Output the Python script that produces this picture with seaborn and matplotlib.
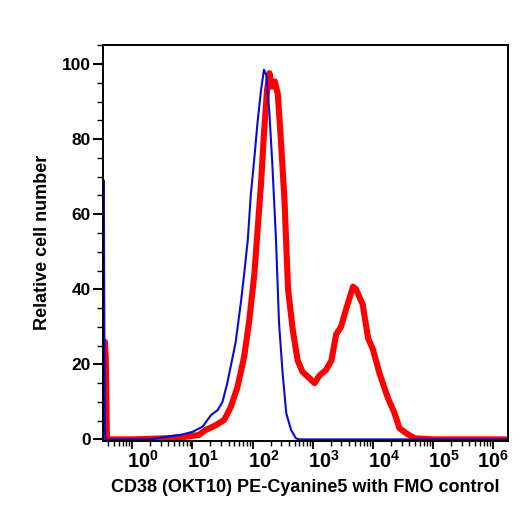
import numpy as np
import pandas as pd
import matplotlib
matplotlib.use("Agg")
import matplotlib.pyplot as plt
import matplotlib.transforms as mtransforms
from matplotlib.ticker import FixedLocator, LogLocator, MultipleLocator, NullFormatter
import seaborn as sns

# FMO control (blue), x given as log10 of channel value
fmo_log = [-0.50, -0.472, -0.462, -0.452, -0.44, 0.0, 0.28, 0.58, 0.83, 1.0, 1.17, 1.31,
           1.42, 1.5, 1.58, 1.67, 1.72, 1.81, 1.86, 1.92, 1.97, 2.03, 2.08, 2.14,
           2.19, 2.23, 2.28, 2.33, 2.39, 2.44, 2.5, 2.56, 2.64, 2.72, 2.78, 4.0, 6.3]
fmo_cnt = [0, 69, 26, 2, 0, 0, 0, 0.7, 1.3, 2.0, 3.4, 6.5,
           7.8, 10, 15, 22, 26, 37, 44, 53, 65, 75, 84, 93,
           98.5, 97, 87, 73, 53, 31, 17.6, 7, 2.5, 0.3, 0, 0, 0]

# CD38 stained sample (red)
cd38_log = [-0.50, -0.455, -0.44, -0.42, 0.0, 0.56, 0.89, 1.11, 1.22, 1.39, 1.53, 1.64,
            1.75, 1.86, 1.94, 2.03, 2.08, 2.14, 2.19, 2.24, 2.28, 2.32, 2.37, 2.42,
            2.47, 2.53, 2.59, 2.67, 2.75, 2.83, 2.92, 3.03, 3.11, 3.22, 3.31, 3.39,
            3.47, 3.56, 3.67, 3.72, 3.83, 3.92, 4.0, 4.11, 4.25, 4.36, 4.44, 4.56,
            4.69, 5.0, 6.3]
cd38_cnt = [0, 26, 22, 0, 0, 0.3, 0.7, 1.2, 2.5, 3.8, 5.2, 8.7,
            14, 22, 31, 44, 55, 68, 81.6, 93, 97.6, 94, 95.4, 92,
            80, 64, 40, 29, 21, 18, 16.7, 15, 17, 18.5, 21, 28,
            30, 35, 40.7, 40, 36, 27, 24, 17.6, 11, 7, 3, 1.6,
            0.3, 0, 0]

decades = [0, 1, 2, 3, 4, 5, 6]
y_ticks = [0, 20, 40, 60, 80, 100]

fmo = pd.DataFrame({"x": np.power(10.0, fmo_log), "y": fmo_cnt})
cd38 = pd.DataFrame({"x": np.power(10.0, cd38_log), "y": cd38_cnt})

sns.set_style("ticks")
plt.rcParams["font.family"] = ["Liberation Sans", "DejaVu Sans"]
plt.rcParams["font.weight"] = "bold"
plt.rcParams["text.color"] = "black"
plt.rcParams["axes.labelcolor"] = "black"
plt.rcParams["xtick.color"] = "black"
plt.rcParams["ytick.color"] = "black"
plt.rcParams["mathtext.fontset"] = "custom"
plt.rcParams["mathtext.bf"] = "Liberation Sans:bold"
plt.rcParams["mathtext.rm"] = "Liberation Sans:bold"

fig = plt.figure(figsize=(5.28, 5.12), dpi=100)
ax = fig.add_axes([0.1957, 0.1396, 0.9615 - 0.1957, 0.9121 - 0.1396])

sns.lineplot(data=cd38, x="x", y="y", ax=ax, color="#ff0000", linewidth=4.4,
             estimator=None, sort=False, solid_joinstyle="round")
sns.lineplot(data=fmo, x="x", y="y", ax=ax, color="#0a0ad8", linewidth=1.5,
             estimator=None, sort=False)

ax.set_xscale("log")
ax.set_xlim(10 ** -0.48, 10 ** 6.24)
ax.set_ylim(-0.3, 105.1)

ax.xaxis.set_major_locator(FixedLocator([10.0 ** d for d in decades]))
ax.xaxis.set_minor_locator(LogLocator(base=10, subs=np.arange(2, 10), numticks=20))
ax.xaxis.set_minor_formatter(NullFormatter())
ax.set_xticklabels([r"$\mathbf{10^{%d}}$" % d for d in decades])
ax.set_yticks(y_ticks)
ax.yaxis.set_minor_locator(MultipleLocator(5))

ax.tick_params(axis="x", which="major", length=6, width=1.3, labelsize=14.5,
               pad=1, colors="black")
ax.tick_params(axis="x", which="minor", length=3.5, width=1.0)
ax.tick_params(axis="y", which="major", length=7, width=1.5, labelsize=12.5,
               pad=2, colors="black")
ax.tick_params(axis="y", which="minor", length=4, width=1.0)

# FlowJo style: decade labels sit a little right of their ticks
shift = mtransforms.ScaledTranslation(11 / 100, 0, fig.dpi_scale_trans)
labels = ax.get_xticklabels()
for lab in labels[:-1]:
    lab.set_transform(lab.get_transform() + shift)

for side in ["top", "right", "left", "bottom"]:
    ax.spines[side].set_visible(True)
    ax.spines[side].set_linewidth(1.4)
    ax.spines[side].set_color("black")

ax.set_xlabel("CD38 (OKT10) PE-Cyanine5 with FMO control", fontsize=13,
              fontweight="bold", labelpad=5, color="black")
ax.set_ylabel("Relative cell number", fontsize=13, fontweight="bold",
              labelpad=8, color="black")

fig.savefig("out.png", dpi=100)
